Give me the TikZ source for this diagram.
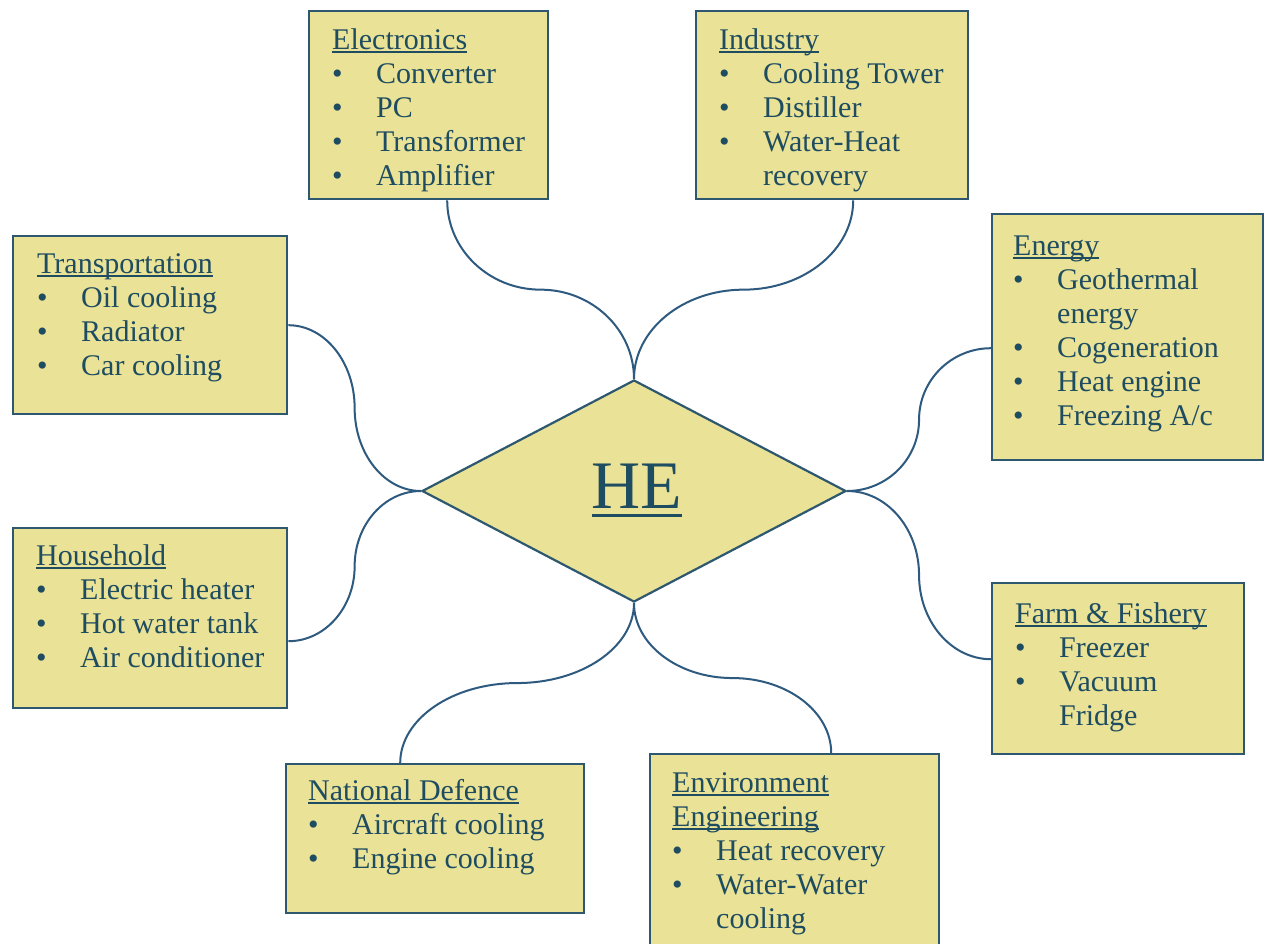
\documentclass[tikz,border=0pt]{standalone}
\usepackage{fontspec}
\setmainfont{Liberation Serif}
\usetikzlibrary{shapes.geometric,calc}
\definecolor{boxfill}{RGB}{234,226,150}
\definecolor{boxline}{RGB}{45,88,112}
\definecolor{txt}{RGB}{30,76,96}
\definecolor{conncol}{RGB}{46,90,128}
\newcommand\ulx[3]{\setbox0=\hbox{#3}\rlap{\rule[-#1]{\wd0}{#2}}\box0}
\newcommand\ttlu[1]{\rule{0pt}{24pt}\ulx{4pt}{1.8pt}{#1}}
\newcommand\ttlv[1]{\ulx{4pt}{1.8pt}{#1}}
\newcommand\bitem[1]{\makebox[44pt][l]{\textbullet}#1}
\newcommand\contline[1]{\hspace*{44pt}#1}
\newcommand\vcurve[2]{\draw[conn] let \p1=(#1), \p2=(#2), \p3=($(\p1)!0.5!(\p2)$) in (\p1) .. controls (\x1,{\y1+0.552*(\y3-\y1)}) and ({\x3-0.552*(\x3-\x1)},\y3) .. (\p3) .. controls ({\x3+0.552*(\x2-\x3)},\y3) and (\x2,{\y2-0.552*(\y2-\y3)}) .. (\p2);}
\newcommand\hcurve[2]{\draw[conn] let \p1=(#1), \p2=(#2), \p3=($(\p1)!0.5!(\p2)$) in (\p1) .. controls ({\x1+0.552*(\x3-\x1)},\y1) and (\x3,{\y3-0.552*(\y3-\y1)}) .. (\p3) .. controls (\x3,{\y3+0.552*(\y2-\y3)}) and ({\x2-0.552*(\x2-\x3)},\y2) .. (\p2);}
\tikzset{
  appbox/.style={draw=boxline, line width=2.4pt, fill=boxfill, anchor=north west, inner sep=0pt},
  lbl/.style={anchor=north west, inner sep=0pt, align=left, text=txt, font=\fontsize{30}{34}\selectfont},
  conn/.style={draw=conncol, line width=2pt},
}
\begin{document}
\begin{tikzpicture}[x=1pt,y=-1pt]
\useasboundingbox (0,0) rectangle (1264,943);
\fill[white] (0,0) rectangle (1264,943);
\clip (0,0) rectangle (1264,943);

% central diamond
\node[diamond, draw=boxline, line width=2.2pt, fill=boxfill, minimum width=424pt, minimum height=222pt, inner sep=0pt] (he) at (634,491) {};
\node[anchor=base, inner sep=0pt, text=txt, font=\fontsize{68}{80}\selectfont] (helbl) at (637,508) {\ulx{9pt}{3pt}{HE}};

% boxes
\node[appbox, minimum width=239pt, minimum height=188pt] (elec) at (308,10) {};
\node[lbl] (elect) at (332,25) {\ttlu{Electronics}\\\bitem{Converter}\\\bitem{PC}\\\bitem{Transformer}\\\bitem{Amplifier}};

\node[appbox, minimum width=272pt, minimum height=188pt] (ind) at (695,10) {};
\node[lbl] (indt) at (719,25) {\ttlu{Industry}\\\bitem{Cooling Tower}\\\bitem{Distiller}\\\bitem{Water-Heat}\\\contline{recovery}};

\node[appbox, minimum width=274pt, minimum height=178pt] (trans) at (12,235) {};
\node[lbl] (transt) at (37,249) {\ttlu{Transportation}\\\bitem{Oil cooling}\\\bitem{Radiator}\\\bitem{Car cooling}};

\node[appbox, minimum width=271pt, minimum height=246pt] (energy) at (991,213) {};
\node[lbl] (energyt) at (1013,231) {\ttlu{Energy}\\\bitem{Geothermal}\\\contline{energy}\\\bitem{Cogeneration}\\\bitem{Heat engine}\\\bitem{Freezing A/c}};

\node[appbox, minimum width=274pt, minimum height=180pt] (house) at (12,527) {};
\node[lbl] (houset) at (36,541) {\ttlu{Household}\\\bitem{Electric heater}\\\bitem{Hot water tank}\\\bitem{Air conditioner}};

\node[appbox, minimum width=252pt, minimum height=171pt] (farm) at (991,582) {};
\node[lbl] (farmt) at (1015,599) {\ttlu{Farm \& Fishery}\\\bitem{Freezer}\\\bitem{Vacuum}\\\contline{Fridge}};

\node[appbox, minimum width=298pt, minimum height=149pt] (natdef) at (285,763) {};
\node[lbl] (natdeft) at (308,776) {\ttlu{National Defence}\\\bitem{Aircraft cooling}\\\bitem{Engine cooling}};

\node[appbox, minimum width=289pt, minimum height=210pt] (env) at (649,753) {};
\node[lbl] (envt) at (672,768) {\ttlu{Environment}\\\ttlv{Engineering}\\\bitem{Heat recovery}\\\bitem{Water-Water}\\\contline{cooling}};

% connectors
\vcurve{[xshift=18.5pt]elec.south}{he.north}
\vcurve{[xshift=21pt]ind.south}{he.north}
\hcurve{trans.east}{he.west}
\hcurve{[yshift=-23pt]house.east}{he.west}
\hcurve{[yshift=-11pt]energy.west}{he.east}
\hcurve{[yshift=9.5pt]farm.west}{he.east}
\vcurve{he.south}{[xshift=-35pt]natdef.north}
\vcurve{he.south}{[xshift=36.5pt]env.north}
\end{tikzpicture}
\end{document}
